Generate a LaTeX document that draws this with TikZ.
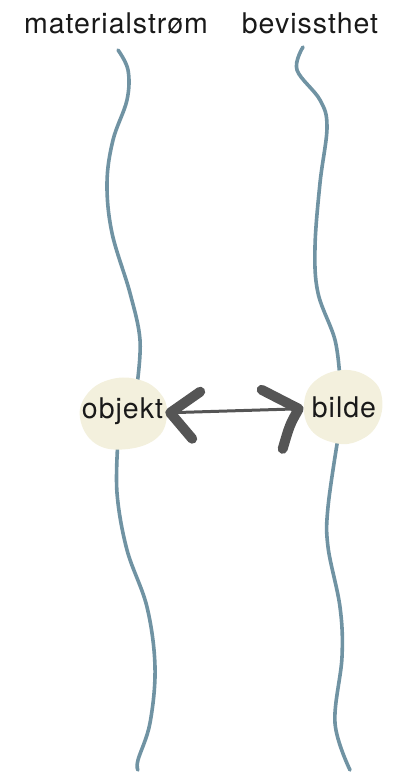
\documentclass[tikz,border=0pt]{standalone}
\usepackage{fontspec}
\usetikzlibrary{calc}
\setmainfont{TeX Gyre Heros}[LetterSpace=3.5]
\definecolor{streamblue}{RGB}{112,147,163}
\definecolor{cream}{RGB}{243,240,221}
\definecolor{arrowgray}{RGB}{85,85,85}
\definecolor{ink}{RGB}{25,25,25}
\begin{document}
\begin{tikzpicture}[x=1pt,y=-1pt,
  lbl/.style={font=\fontsize{28.5}{32}\selectfont, inner sep=0pt, anchor=base, text=ink},
  stream/.style={draw=streamblue, line width=3.6pt, line cap=round},
  blob/.style={fill=cream},
  shaft/.style={draw=arrowgray, line width=3pt},
  barb/.style={draw=arrowgray, line width=10pt, line cap=round, line join=round}]
\useasboundingbox (0,0) rectangle (396,772);

% column titles
\node[lbl] (mat) at (116,33) {materialstrøm};
\node[lbl] (bev) at (310,33) {bevissthet};

% wavy streams
\draw[stream] plot[smooth, tension=0.6] coordinates
  {(118,50) (128,70) (127,100) (113,140) (107,183) (112,233) (130,293) (140,340) (137,385)};
\draw[stream] plot[smooth, tension=0.6] coordinates
  {(118,440) (117,493) (127,550) (147,607) (155,667) (150,723) (138,760) (138,770)};
\draw[stream] plot[smooth, tension=0.6] coordinates
  {(303,47) (297,70) (320,100) (327,127) (320,183) (315,247) (318,293) (335,340) (340,380)};
\draw[stream] plot[smooth, tension=0.6] coordinates
  {(338,438) (328,507) (328,547) (340,607) (342,657) (335,723) (350,770)};

% blobs on the streams
\fill[blob] plot[smooth cycle, tension=0.7] coordinates
  {(80,418) (88,393) (112,379) (140,380) (160,393) (167,413) (158,437) (128,449) (96,444)};
\fill[blob] plot[smooth cycle, tension=0.7] coordinates
  {(304,404) (315,381) (343,370) (370,378) (382,398) (377,425) (358,441) (335,443) (311,430)};

\node[lbl] (objekt) at (122.5,418) {objekt};
\node[lbl] (bilde) at (344,417) {bilde};

% two-way arrow between the nodes
\coordinate (lt) at ([xshift=7pt,yshift=-2pt]objekt.east);
\coordinate (rt) at ([xshift=-13pt,yshift=-2pt]bilde.west);
\draw[shaft] (lt) -- (rt);
\draw[barb] ($(lt)+(30,-21)$) -- (lt) -- ($(lt)+(22,26)$);
\draw[barb] ($(rt)+(-37,-19)$) .. controls ($(rt)+(-18,-10)$) .. (rt)
  .. controls ($(rt)+(-9,16)$) .. ($(rt)+(-16,40)$);
\end{tikzpicture}
\end{document}
